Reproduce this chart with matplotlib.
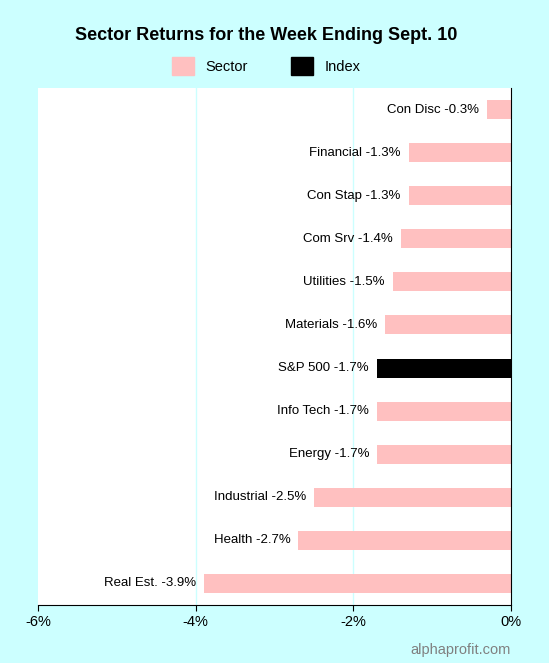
import matplotlib.pyplot as plt
from matplotlib.patches import Patch

labels = ["Con Disc", "Financial", "Con Stap", "Com Srv", "Utilities", "Materials",
          "S&P 500", "Info Tech", "Energy", "Industrial", "Health", "Real Est."]
returns = [-0.3, -1.3, -1.3, -1.4, -1.5, -1.6, -1.7, -1.7, -1.7, -2.5, -2.7, -3.9]
is_index = [False] * 6 + [True] + [False] * 5
xticks = [-6, -4, -2, 0]

sector_color = "#ffc0c0"
index_color = "#000000"

fig = plt.figure(figsize=(5.49, 6.63), dpi=100, facecolor="#ccffff")
ax = fig.add_axes([0.0692, 0.0875, 0.8616, 0.7798])

ypos = list(range(len(labels)))[::-1]
colors = [index_color if i else sector_color for i in is_index]
ax.barh(ypos, returns, height=0.44, color=colors, zorder=2)
for y, v, lab in zip(ypos, returns, labels):
    ax.text(v - 0.1, y, f"{lab} {v:.1f}%", ha="right", va="center", fontsize=9.5,
            family="Liberation Sans")

ax.set_xlim(-6, 0)
ax.set_ylim(-0.5, 11.5)
ax.set_xticks(xticks)
ax.set_xticklabels([f"{t}%" for t in xticks], fontsize=10.5, family="Liberation Sans")
ax.set_yticks([])
for t in [-4, -2]:
    ax.axvline(t, color="#ccffff", lw=1, zorder=1)
for s in ["left", "top"]:
    ax.spines[s].set_visible(False)
ax.spines["right"].set_color("black")
ax.spines["bottom"].set_color("black")
ax.tick_params(axis="x", length=4)

fig.text(0.485, 0.947, "Sector Returns for the Week Ending Sept. 10", ha="center", va="center",
         fontsize=13, fontweight="bold", family="Liberation Sans")
handles = [Patch(color=sector_color, label="Sector"), Patch(color=index_color, label="Index")]
fig.legend(handles=handles, loc="center", bbox_to_anchor=(0.485, 0.9), ncol=2, frameon=False,
           prop={"family": "Liberation Sans", "size": 10.5}, handlelength=1.5, handleheight=1.5,
           columnspacing=3)
fig.text(0.93, 0.02, "alphaprofit.com", ha="right", va="center", fontsize=10.5,
         color="#808080", family="Liberation Sans")

fig.savefig("out.png", dpi=100, facecolor=fig.get_facecolor())
